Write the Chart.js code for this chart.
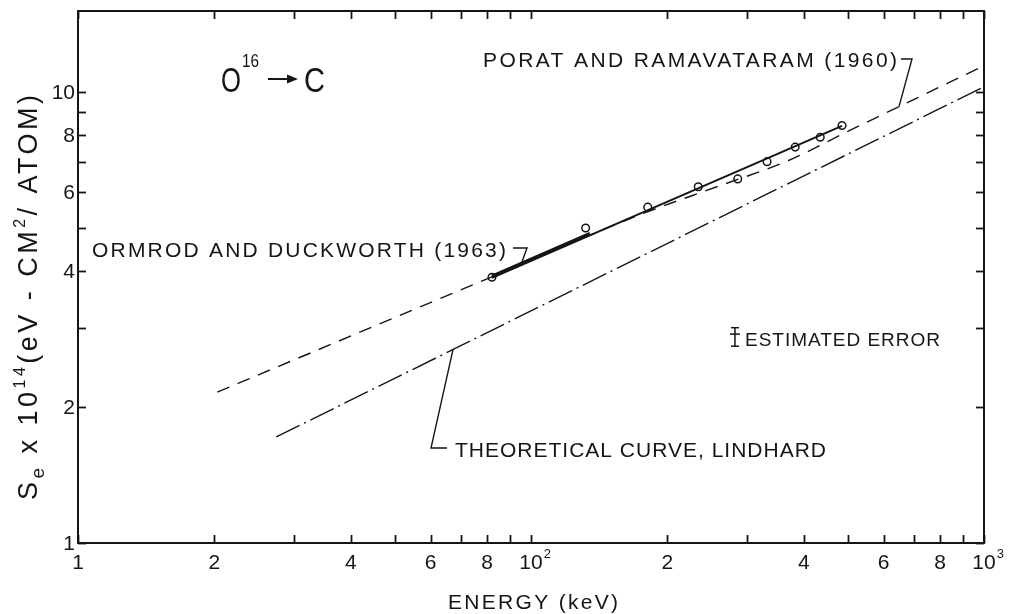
<!DOCTYPE html>
<html><head><meta charset="utf-8">
<script src="https://cdn.jsdelivr.net/npm/chart.js@4/dist/chart.umd.min.js"></script>
<style>html,body{margin:0;padding:0;background:#fff;}#wrap{width:1011px;height:614px;}</style>
</head><body><div id="wrap"><canvas id="c" width="1011" height="614"></canvas></div>
<script>
// ---- data (energy in keV, Se in 1e-14 eV cm^2/atom) ----
const measuredEnergy = [82, 132, 181, 234, 286, 332, 383, 435, 486];
const measuredSe     = [3.88, 4.99, 5.55, 6.16, 6.41, 7.00, 7.54, 7.93, 8.42];
const fitEnergy = [82, 486];
const fitSe     = [3.87, 8.40];
const ormrodEnergy = [82, 135];
const ormrodSe     = [3.90, 4.85];
const poratEnergy = [20.3, 82, 174, 261, 369, 498, 1000];
const poratSe     = [2.16, 3.89, 5.34, 6.19, 7.03, 8.15, 11.42];
const lindhardEnergy = [27.4, 1000];
const lindhardSe     = [1.718, 10.26];
const errorEnergy = 282;
const errorSe = [2.73, 2.86, 3.00];
// ---- ticks ----
const xMajorTicks = [10, 20, 40, 60, 80, 100, 200, 400, 600, 800, 1000];
const xTickBase   = ['1', '2', '4', '6', '8', '10', '2', '4', '6', '8', '10'];
const xTickSup    = ['', '', '', '', '', '2', '', '', '', '', '3'];
const xMinorTicks = [30, 50, 70, 90, 300, 500, 700, 900];
const yMajorTicks = [1, 2, 4, 6, 8, 10];
const yTickLabels = ['1', '2', '4', '6', '8', '10'];
const yMinorTicks = [3, 5, 7, 9];

const FONT = '"Liberation Sans", Arial, sans-serif';
const INK = '#151515';
const pts = (xs, ys) => xs.map((x, i) => ({x, y: ys[i]}));

function fitText(ctx, segs, x, y, target, rot) {
  ctx.save();
  ctx.translate(x, y);
  if (rot) ctx.rotate(rot);
  ctx.fillStyle = INK;
  ctx.textBaseline = 'alphabetic';
  ctx.textAlign = 'left';
  let nat = 0, n = 0;
  segs.forEach(s => { ctx.font = s.size + 'px ' + FONT; ctx.letterSpacing = '0px'; s.w = ctx.measureText(s.t).width; nat += s.w; n += s.t.length; });
  let L = 0, sx = 1;
  if (target) {
    if (target >= nat) L = (target - nat) / Math.max(1, n - 1);
    else sx = target / nat;
  }
  ctx.scale(sx, 1);
  let cx = 0;
  segs.forEach(s => {
    ctx.font = s.size + 'px ' + FONT;
    ctx.letterSpacing = L + 'px';
    ctx.fillText(s.t, cx, s.dy || 0);
    cx += s.w + L * s.t.length;
  });
  ctx.restore();
}

function line(ctx, p, w) {
  ctx.beginPath();
  ctx.moveTo(p[0][0], p[0][1]);
  for (let i = 1; i < p.length; i++) ctx.lineTo(p[i][0], p[i][1]);
  ctx.lineWidth = w || 1.5;
  ctx.strokeStyle = INK;
  ctx.stroke();
}

const decor = {
  id: 'decor',
  afterDraw(chart) {
    const ctx = chart.ctx, a = chart.chartArea;
    const xs = chart.scales.x, ys = chart.scales.y;
    const P = (e, s) => [xs.getPixelForValue(e), ys.getPixelForValue(s)];
    ctx.save();
    ctx.setLineDash([]);
    ctx.lineWidth = 2; ctx.strokeStyle = INK;
    ctx.strokeRect(a.left, a.top, a.right - a.left, a.bottom - a.top);
    const T = 8;
    xMajorTicks.concat(xMinorTicks).forEach(v => {
      const px = Math.round(xs.getPixelForValue(v)) + 0.5;
      line(ctx, [[px, a.bottom], [px, a.bottom - T]], 1.8);
      line(ctx, [[px, a.top], [px, a.top + T]], 1.8);
    });
    yMajorTicks.concat(yMinorTicks).forEach(v => {
      const py = Math.round(ys.getPixelForValue(v)) + 0.5;
      line(ctx, [[a.left, py], [a.left + T, py]], 1.8);
      line(ctx, [[a.right, py], [a.right - T, py]], 1.8);
    });
    ctx.fillStyle = INK; ctx.textBaseline = 'alphabetic';
    xMajorTicks.forEach((v, i) => {
      const px = xs.getPixelForValue(v);
      ctx.font = '21px ' + FONT; ctx.textAlign = 'center';
      ctx.fillText(xTickBase[i], px, a.bottom + 26);
      if (xTickSup[i]) {
        const w = ctx.measureText(xTickBase[i]).width;
        ctx.font = '13px ' + FONT; ctx.textAlign = 'left';
        ctx.fillText(xTickSup[i], px + w / 2 + 1, a.bottom + 15);
      }
    });
    ctx.font = '21px ' + FONT; ctx.textAlign = 'right'; ctx.textBaseline = 'middle';
    yMajorTicks.forEach((v, i) => {
      ctx.fillText(yTickLabels[i], a.left - 3, ys.getPixelForValue(v) + 1);
    });
    ctx.textBaseline = 'alphabetic';
    // axis titles
    fitText(ctx, [{t: 'ENERGY (keV)', size: 21}], 448, 609, 170);
    fitText(ctx, [
      {t: 'S', size: 27}, {t: 'e', size: 19, dy: 7}, {t: ' x 10', size: 27},
      {t: '14', size: 16, dy: -12}, {t: '(eV - CM', size: 27}, {t: '2', size: 16, dy: -12},
      {t: '/ ATOM)', size: 27}], 37, 500, 405, -Math.PI / 2);
    // O16 -> C
    fitText(ctx, [{t: 'O', size: 35}], 221, 92, 20);
    fitText(ctx, [{t: '16', size: 19}], 242, 67, 17);
    line(ctx, [[268, 79], [288, 79]], 2);
    ctx.beginPath(); ctx.moveTo(298, 79); ctx.lineTo(287, 74.5); ctx.lineTo(287, 83.5); ctx.closePath(); ctx.fill();
    fitText(ctx, [{t: 'C', size: 35}], 304, 92, 21);
    // curve labels with leader hooks
    fitText(ctx, [{t: 'PORAT AND RAMAVATARAM (1960)', size: 21}], 483, 67, 414);
    line(ctx, [[901, 59], [912, 59], P(649, 9.26)], 1.4);
    fitText(ctx, [{t: 'ORMROD AND DUCKWORTH (1963)', size: 21}], 92, 257, 414);
    line(ctx, [[513, 248], [527, 248], P(95, 4.13)], 1.4);
    fitText(ctx, [{t: 'THEORETICAL CURVE, LINDHARD', size: 21}], 455, 457, 371);
    line(ctx, [[447, 448], [431, 448], P(67.3, 2.69)], 1.4);
    fitText(ctx, [{t: 'ESTIMATED ERROR', size: 19}], 745, 346, 195);
    // estimated error bar
    const ex = xs.getPixelForValue(errorEnergy);
    const yl = ys.getPixelForValue(errorSe[0]), ym = ys.getPixelForValue(errorSe[1]), yh = ys.getPixelForValue(errorSe[2]);
    line(ctx, [[ex, yl], [ex, yh]], 1.5);
    line(ctx, [[ex - 4, yl], [ex + 4, yl]], 1.5);
    line(ctx, [[ex - 4, yh], [ex + 4, yh]], 1.5);
    line(ctx, [[ex - 5, ym - 3], [ex + 5, ym - 3]], 1.5);
    ctx.restore();
  }
};

new Chart(document.getElementById('c'), {
  type: 'scatter',
  data: {
    datasets: [
      {label: 'Porat and Ramavataram (1960)', data: pts(poratEnergy, poratSe), showLine: true,
       borderColor: INK, borderWidth: 1.4, borderDash: [13, 9], pointRadius: 0, cubicInterpolationMode: 'monotone'},
      {label: 'Theoretical curve, Lindhard', data: pts(lindhardEnergy, lindhardSe), showLine: true,
       borderColor: INK, borderWidth: 1.4, borderDash: [26, 5, 2, 5], pointRadius: 0},
      {label: 'Ormrod and Duckworth (1963)', data: pts(ormrodEnergy, ormrodSe), showLine: true,
       borderColor: INK, borderWidth: 3.5, pointRadius: 0},
      {label: 'Fit', data: pts(fitEnergy, fitSe), showLine: true,
       borderColor: INK, borderWidth: 2, pointRadius: 0},
      {label: 'Measured', data: pts(measuredEnergy, measuredSe), showLine: false,
       pointRadius: 3.8, pointBackgroundColor: '#fff', pointBorderColor: INK, pointBorderWidth: 1.5}
    ]
  },
  options: {
    responsive: false, animation: false, devicePixelRatio: 1,
    layout: {padding: {left: 0, right: 27, top: 11, bottom: 0}},
    plugins: {legend: {display: false}, tooltip: {enabled: false}},
    scales: {
      x: {type: 'logarithmic', min: 10, max: 1000, grid: {display: false}, border: {display: false},
          ticks: {display: false}, afterFit(s) { s.height = 71; }},
      y: {type: 'logarithmic', min: 1, max: 15.1, grid: {display: false}, border: {display: false},
          ticks: {display: false}, afterFit(s) { s.width = 78; }}
    }
  },
  plugins: [decor]
});
</script></body></html>
